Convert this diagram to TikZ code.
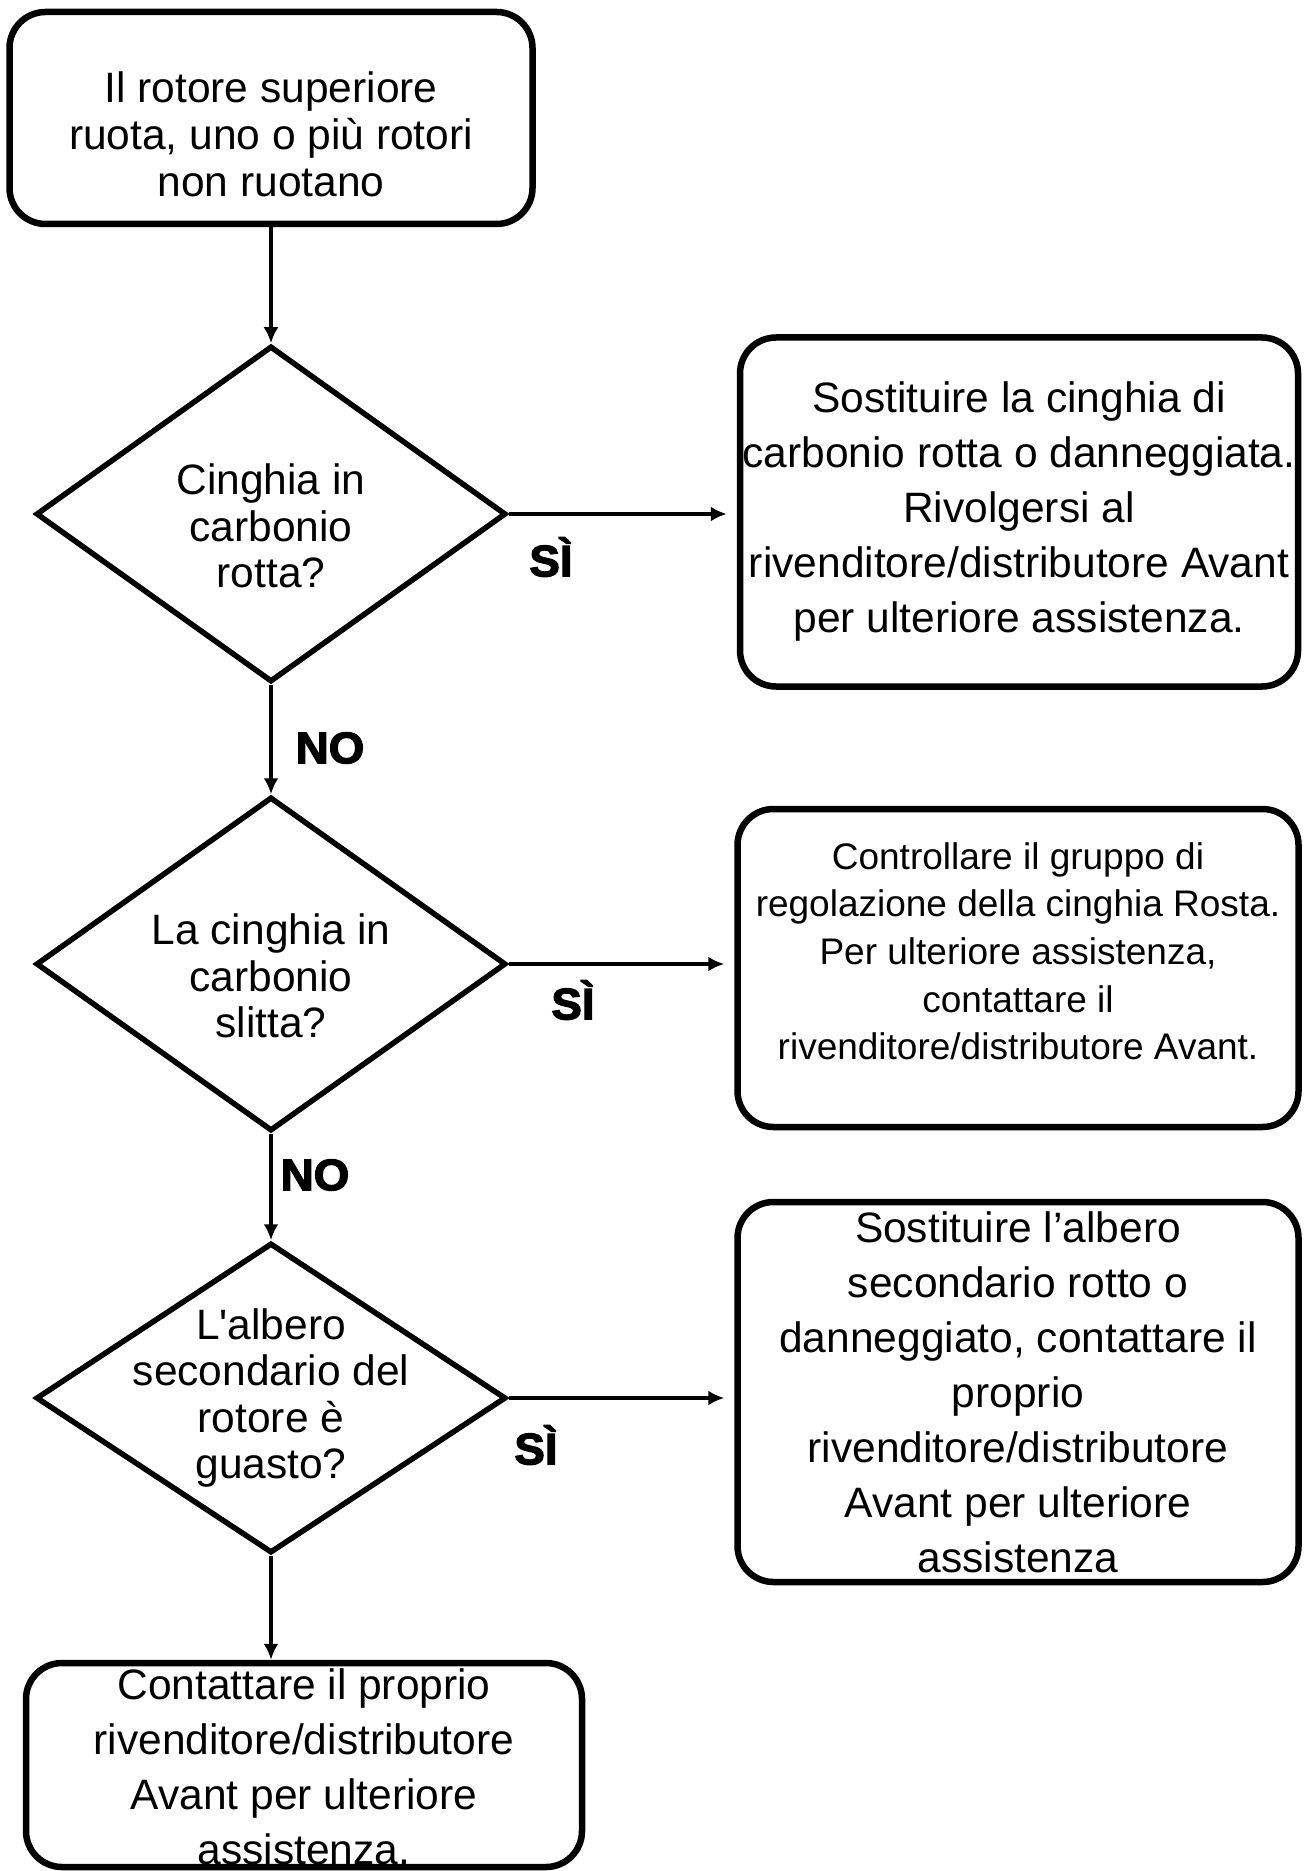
\documentclass[tikz,border=0pt]{standalone}
\usepackage{fontspec}
\setmainfont{Liberation Sans}
\newfontfamily\gruesa[FakeStretch=1.04, BoldFeatures={FakeBold=3}]{Liberation Sans}
\usepackage{tikz}
\usetikzlibrary{shapes.geometric, arrows.meta}

\begin{document}
\begin{tikzpicture} %Diagrama rotores
  [
    x=0.5pt, y=-0.5pt,
    % Definimos los estilos para no repetir codigo
    caja/.style={draw, rounded corners=18pt, line width=3.25pt, align=center, inner sep=0pt},
    rombo/.style={diamond, draw, line width=2.75pt, inner sep=0pt, minimum width=235pt},
    texto/.style={align=center, inner sep=0pt, font=\fontsize{21.25}{23.25}\selectfont},
    grande/.style={font=\fontsize{21.25}{27.5}\selectfont},
    resp/.style={inner sep=0pt, font=\gruesa\bfseries\fontsize{22}{24}\selectfont},
    flecha/.style={line width=2.4pt, -{Latex[length=8pt,width=7.5pt]}}
  ]
  \useasboundingbox (0,0) rectangle (1305,1871);

  \node[caja, minimum width=261.5pt, minimum height=106pt, font=\fontsize{21.25}{23.5}\selectfont] (inicio) at (271,118) {\rule{0pt}{32pt}Il rotore superiore\\ruota, uno o più rotori\\non ruotano};

  \node[rombo, minimum height=168pt] (d1) at (271,514) {};
  \node[rombo, minimum height=167pt] (d2) at (271,964) {};
  \node[rombo, minimum height=155pt] (d3) at (271,1398) {};
  \node[texto] (d1t) at (271,526) {Cinghia in\\carbonio\\rotta?};
  \node[texto] (d2t) at (271,976) {La cinghia in\\carbonio\\slitta?};
  \node[texto] (d3t) at (271,1398) {L\textquotesingle albero\\secondario del\\rotore è\\guasto?};

  \node[caja, grande, minimum width=279pt, minimum height=174.5pt] (r1) at (1019,512) {Sostituire la cinghia di\\carbonio rotta o danneggiata.\\Rivolgersi al\\rivenditore/distributore Avant\\per ulteriore assistenza.};
  \node[caja, minimum width=280.5pt, minimum height=159pt, font=\fontsize{18.5}{23.8}\selectfont] (r2) at (1018,968) {Controllare il gruppo di\\regolazione della cinghia Rosta.\\Per ulteriore assistenza,\\contattare il\\rivenditore/distributore Avant.\rule[-17pt]{0pt}{17pt}};
  \node[caja, grande, minimum width=280.5pt, minimum height=190pt] (r3) at (1018,1392) {Sostituire l’albero\\secondario rotto o\\danneggiato, contattare il\\proprio\\rivenditore/distributore\\Avant per ulteriore\\assistenza};

  \node[caja, minimum width=278pt, minimum height=102pt] (fin) at (304,1765) {};
  \node[texto, grande] (fint) at (304,1767) {Contattare il proprio\\rivenditore/distributore\\Avant per ulteriore\\assistenza.};

  \node[resp] (si1) at (551,557) {SÌ};
  \node[resp] (si2) at (573,1000) {SÌ};
  \node[resp] (si3) at (536,1445) {SÌ};
  \node[resp] (no1) at (330,748) {NO};
  \node[resp] (no2) at (315,1175) {NO};

  \draw[flecha] (inicio.south) -- (d1.north);
  \draw[flecha, shorten >=5pt] (d1.east) -- (d1.east -| r1.west);
  \draw[flecha] (d1.south) -- (d2.north);
  \draw[flecha, shorten >=5pt] (d2.east) -- (d2.east -| r2.west);
  \draw[flecha] (d2.south) -- (d3.north);
  \draw[flecha, shorten >=5pt] (d3.east) -- (d3.east -| r3.west);
  \draw[flecha] (d3.south) -- (d3.south |- fin.north);

\end{tikzpicture}
\end{document}
